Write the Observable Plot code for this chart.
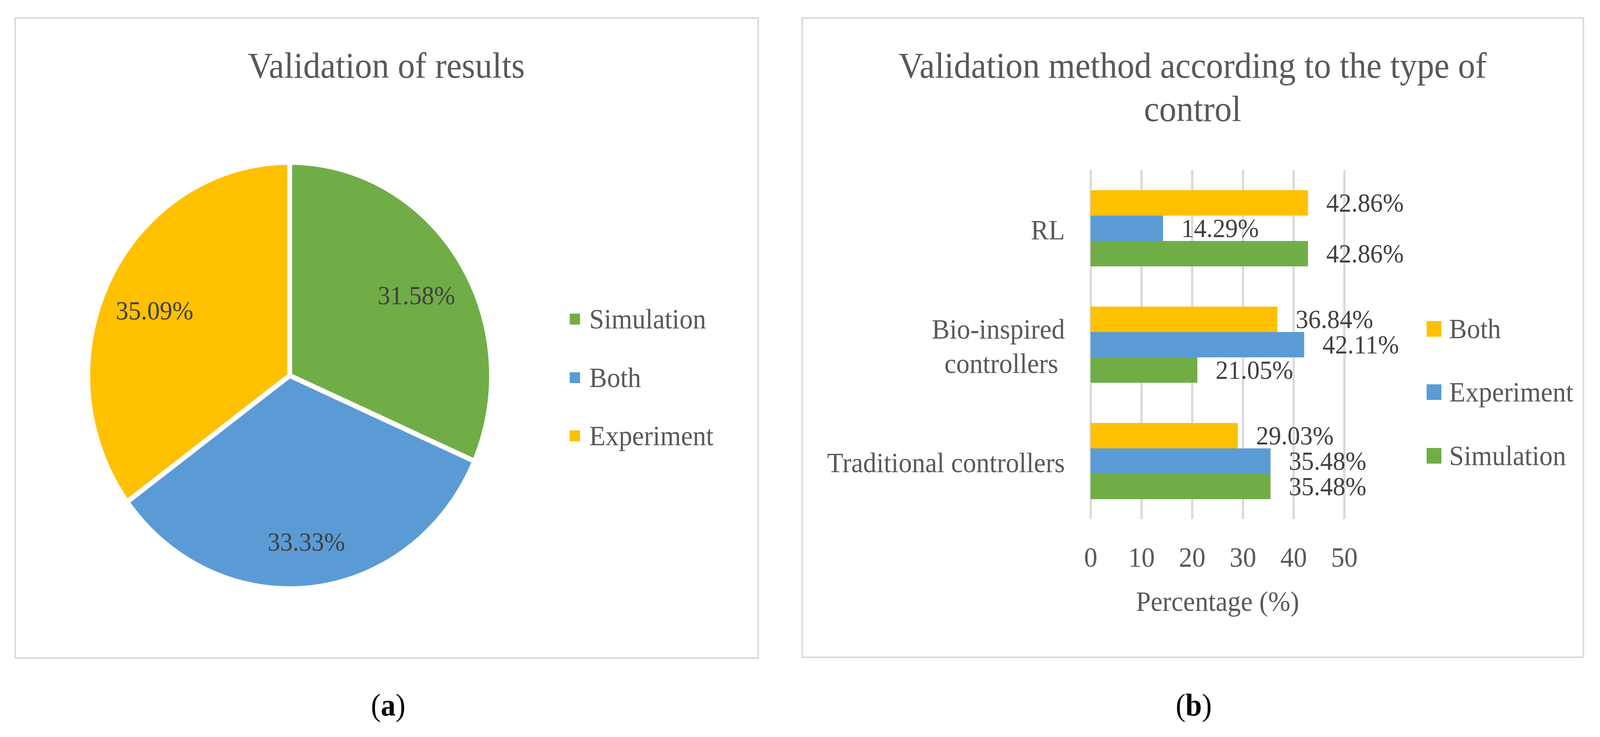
<!DOCTYPE html>
<html>
<head>
<meta charset="utf-8">
<script src="https://cdn.jsdelivr.net/npm/d3@7"></script>
<script src="https://cdn.jsdelivr.net/npm/@observablehq/plot@0.6"></script>
<style>
html, body { margin: 0; padding: 0; background: #fff; overflow: hidden; }
#page { position: relative; width: 4328px; height: 1887px; overflow: hidden; font-family: 'Liberation Serif', serif; color: #595959; background: #fff; transform-origin: 0 0; }
.panel { position: absolute; border: 4px solid #D9D9D9; box-sizing: border-box; }
.title { position: absolute; font-size: 93px; line-height: 111px; white-space: nowrap; text-align: center; transform: translateX(-50%); }
.leg { position: absolute; display: flex; align-items: center; font-size: 72px; line-height: 90px; height: 90px; white-space: nowrap; }
.sw { display: inline-block; flex: none; }
.cap { position: absolute; font-size: 80px; line-height: 98px; color: #000; transform: translateX(-50%); white-space: nowrap; }
.plotbox { position: absolute; }
</style>
</head>
<body>
<div id="page">
  <div class="panel" style="left:39px;top:44px;width:2014px;height:1643px;"></div>
  <div class="panel" style="left:2168px;top:44px;width:2117px;height:1641px;"></div>
  <div class="title" style="left:1045px;top:112px;">Validation of results</div>
  <div class="title" style="left:3226px;top:112px;">Validation method according to the type of<br>control</div>
  <div id="pie" class="plotbox" style="left:223px;top:401px;"></div>
  <div id="bars" class="plotbox" style="left:2200px;top:400px;"></div>
  <div id="legA"></div>
  <div id="legB"></div>
  <div class="cap" style="left:1050px;top:1756px;">(<b>a</b>)</div>
  <div class="cap" style="left:3229px;top:1756px;">(<b>b</b>)</div>
</div>
<script>
// ---------- data ----------
const pieCategories = ["Simulation", "Both", "Experiment"];
const pieValues = [31.58, 33.33, 35.09];
const pieColors = ["#70AD47", "#5B9BD5", "#FFC000"];

const barCategories = ["RL", "Bio-inspired controllers", "Traditional controllers"];
const barCategoryLabels = ["RL", "Bio-inspired\ncontrollers\u00A0", "Traditional controllers"];
const barSeries = ["Both", "Experiment", "Simulation"];
const barColors = ["#FFC000", "#5B9BD5", "#70AD47"];
const bothValues = [42.86, 36.84, 29.03];
const experimentValues = [14.29, 42.11, 35.48];
const simulationValues = [42.86, 21.05, 35.48];
const xTicks = [0, 10, 20, 30, 40, 50];

// fit the 4328x1887 design into the actual viewport
function fit() {
  const sx = (document.documentElement.clientWidth || window.innerWidth) / 4328;
  const sy = (document.documentElement.clientHeight || window.innerHeight) / 1887;
  document.getElementById("page").style.transform = "scale(" + sx + "," + sy + ")";
}
fit();
window.addEventListener("resize", fit);

// ---------- pie (a) ----------
const arcs = d3.pie().sort(null).value(d => d)(pieValues);
const piePts = [];
arcs.forEach((a, i) => {
  const key = pieCategories[i];
  piePts.push({key, x: 0, y: 0});
  const n = Math.ceil((a.endAngle - a.startAngle) / (Math.PI / 720));
  for (let k = 0; k <= n; k++) {
    const t = a.startAngle + (a.endAngle - a.startAngle) * k / n;
    piePts.push({key, x: Math.sin(t), y: Math.cos(t)});
  }
  piePts.push({key, x: 0, y: 0});
});
const pieLabelData = arcs.map((a, i) => {
  const m = (a.startAngle + a.endAngle) / 2;
  return {x: 0.75 * Math.sin(m), y: 0.75 * Math.cos(m), label: pieValues[i].toFixed(2) + "%"};
});

const pie = Plot.plot({
  width: 1120, height: 1120,
  marginTop: 14, marginBottom: 14, marginLeft: 14, marginRight: 14,
  x: {domain: [-1, 1], axis: null},
  y: {domain: [-1, 1], axis: null},
  color: {domain: pieCategories, range: pieColors},
  style: {fontFamily: "'Liberation Serif', serif", background: "transparent", overflow: "visible"},
  marks: [
    Plot.line(piePts, {x: "x", y: "y", z: "key", fill: "key", stroke: "white", strokeWidth: 13, strokeLinejoin: "miter", curve: "linear"}),
    Plot.text(pieLabelData, {x: "x", y: "y", text: "label", fontSize: 68, dy: 20, fill: "#404040"})
  ]
});
document.getElementById("pie").appendChild(pie);

// ---------- bars (b) ----------
const barData = [];
barCategories.forEach((c, i) => {
  barData.push({category: c, series: "Both", value: bothValues[i]});
  barData.push({category: c, series: "Experiment", value: experimentValues[i]});
  barData.push({category: c, series: "Simulation", value: simulationValues[i]});
});

const bars = Plot.plot({
  width: 1600, height: 1250,
  marginLeft: 750, marginRight: 164, marginTop: 35, marginBottom: 321,
  style: {fontFamily: "'Liberation Serif', serif", fontSize: "72px", color: "#595959", background: "transparent", overflow: "visible"},
  fy: {domain: barCategories, padding: 0, axis: null},
  y: {domain: barSeries, paddingInner: 0, paddingOuter: 0.758, axis: null},
  x: {domain: [0, 50], ticks: xTicks, tickSize: 0, tickPadding: 70, label: "Percentage (%)", labelAnchor: "center", labelOffset: 234, labelArrow: "none"},
  color: {domain: barSeries, range: barColors},
  marks: [
    Plot.ruleX(xTicks, {stroke: "#D9D9D9", strokeWidth: 6}),
    Plot.barX(barData, {x: "value", y: "series", fy: "category", fill: "series"}),
    Plot.text(barData, {x: "value", y: "series", fy: "category", text: d => d.value.toFixed(2) + "%", textAnchor: "start", dx: 49, fontSize: 68, fill: "#404040"}),
    Plot.text(barCategories, {fy: d => d, text: (d, i) => barCategoryLabels[i], frameAnchor: "left", textAnchor: "end", dx: -70, fontSize: 72, lineHeight: 1.22, fill: "#595959"})
  ]
});
document.getElementById("bars").appendChild(bars);

// ---------- legends ----------
function legend(containerId, names, colors, sq, left, textLeft, centers) {
  const el = document.getElementById(containerId);
  names.forEach((n, i) => {
    const row = document.createElement("div");
    row.className = "leg";
    row.style.left = left + "px";
    row.style.top = (centers[i] - 45) + "px";
    const s = document.createElement("span");
    s.className = "sw";
    s.style.width = sq + "px"; s.style.height = sq + "px";
    s.style.background = colors[i];
    s.style.marginRight = (textLeft - left - sq) + "px";
    row.appendChild(s);
    row.appendChild(document.createTextNode(n));
    el.appendChild(row);
  });
}
legend("legA", pieCategories, pieColors, 28, 1541, 1594, [817, 967, 1116]);
legend("legB", barSeries, barColors, 40, 3859, 3920, [842, 1004, 1167]);
</script>
</body>
</html>
